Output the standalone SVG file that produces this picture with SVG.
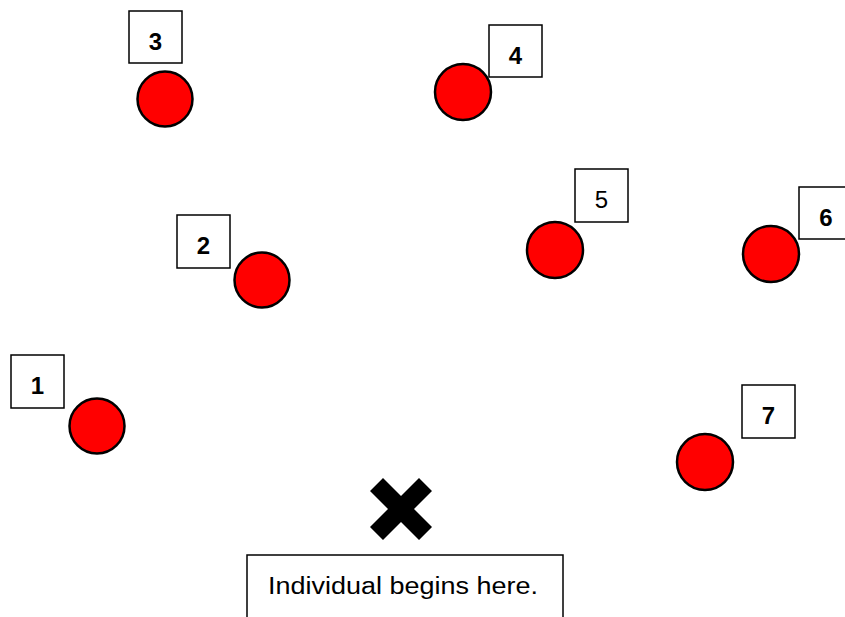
<svg xmlns="http://www.w3.org/2000/svg" width="845" height="617" viewBox="0 0 845 617">
<style>
.box{fill:#fff;stroke:#000;stroke-width:1.5}
.dot{fill:#ff0000;stroke:#000;stroke-width:2.5}
.lbl{font-family:"Liberation Sans",Arial,sans-serif;font-size:24px;font-weight:bold;text-anchor:middle;fill:#000}
.reg{font-weight:normal}
.cap{font-family:"Liberation Sans",Arial,sans-serif;font-size:23px;fill:#000}
</style>
<rect width="845" height="617" fill="#fff"/>
<g id="node1"><circle class="dot" cx="97" cy="426" r="27.5"/><rect class="box" x="11" y="355" width="53" height="53"/><text class="lbl" x="37.5" y="394">1</text></g>
<g id="node2"><circle class="dot" cx="262" cy="280" r="27.5"/><rect class="box" x="177" y="215" width="53" height="53"/><text class="lbl" x="203.5" y="254">2</text></g>
<g id="node3"><circle class="dot" cx="165" cy="99" r="27.5"/><rect class="box" x="129" y="11" width="53" height="52"/><text class="lbl" x="155.5" y="50">3</text></g>
<g id="node4"><circle class="dot" cx="463" cy="92" r="28"/><rect class="box" x="489" y="25" width="53" height="52"/><text class="lbl" x="515.5" y="64">4</text></g>
<g id="node5"><circle class="dot" cx="555" cy="250" r="28"/><rect class="box" x="575" y="169" width="53" height="53"/><text class="lbl reg" x="601.5" y="208">5</text></g>
<g id="node6"><circle class="dot" cx="771" cy="254" r="28"/><rect class="box" x="799" y="187" width="53" height="52"/><text class="lbl" x="826" y="226">6</text></g>
<g id="node7"><circle class="dot" cx="705" cy="462" r="28"/><rect class="box" x="742" y="385" width="53" height="53"/><text class="lbl" x="768.5" y="424">7</text></g>
<g id="start">
<polygon points="401,496 419,478 432,491 414,509 432,527 419,540 401,522 383,540 370,527 388,509 370,491 383,478" fill="#000"/>
<rect class="box" x="247" y="555" width="316" height="70"/>
<text class="cap" x="268" y="594" textLength="270" lengthAdjust="spacingAndGlyphs">Individual begins here.</text>
</g>
<g id="connectors"></g>
</svg>
